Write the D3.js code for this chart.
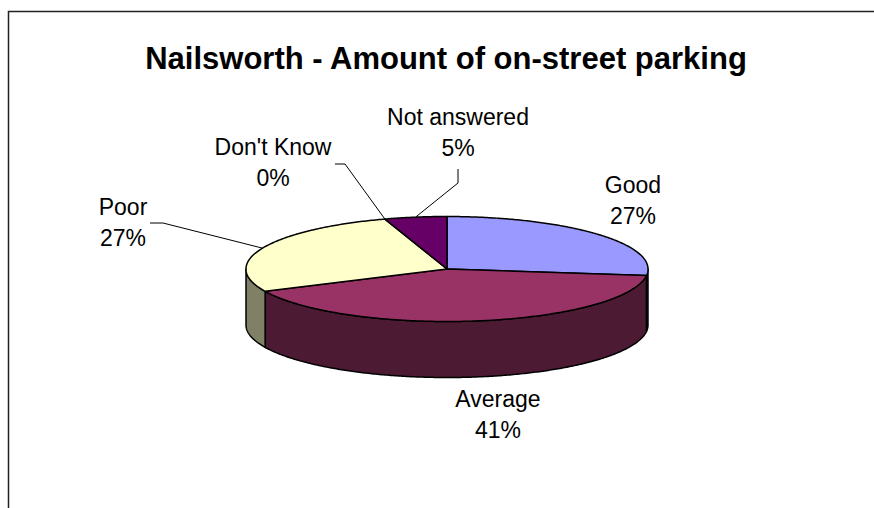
<!DOCTYPE html>
<html>
<head>
<meta charset="utf-8">
<script src="https://cdn.jsdelivr.net/npm/d3@7"></script>
<style>
  html, body { margin: 0; padding: 0; background: #fff; }
  svg { display: block; }
  text { font-family: "Liberation Sans", Arial, sans-serif; }
</style>
</head>
<body>
<svg id="chart" width="874" height="508"></svg>
<script>
// Survey answers: amount of on-street parking in Nailsworth (percent)
const categories = ["Good", "Average", "Poor", "Don't Know", "Not answered"];
const values = [27, 41, 27, 0, 5];
const topColors = ["#9999FF", "#993366", "#FFFFCC", "#CCFFFF", "#660066"];
const sideColors = ["#4C4C80", "#4C1A33", "#808066", "#668080", "#330033"];
const title = "Nailsworth - Amount of on-street parking";

const W = 874, H = 508;
const svg = d3.select("#chart");

// Chart area frame (right and bottom edges fall outside the page)
svg.append("rect")
  .attr("x", 8.5).attr("y", 11.5)
  .attr("width", 900).attr("height", 520)
  .attr("fill", "#fff")
  .attr("stroke", "#222").attr("stroke-width", 1.5);

svg.append("text")
  .attr("x", 446).attr("y", 69)
  .attr("text-anchor", "middle")
  .attr("font-size", 31).attr("font-weight", "bold")
  .text(title);

// Tilted pie geometry
const cx = 447, cy = 269, rx = 201, ry = 52.5, depth = 56;
const pt = (a, dy = 0) => [cx + rx * Math.sin(a), cy - ry * Math.cos(a) + dy];

const pie = d3.pie().sort(null).startAngle(0).endAngle(2 * Math.PI);
const arcs = pie(values).map((d, i) => ({ ...d, i }));

const line = d3.line();
function rimPoints(a0, a1, dy) {
  const n = Math.max(2, Math.ceil((a1 - a0) / 0.01));
  return d3.range(n + 1).map(k => pt(a0 + (a1 - a0) * k / n, dy));
}

// Side walls: only the front half (angles between 90° and 270°) is visible
const gWalls = svg.append("g");
arcs.forEach(d => {
  const a0 = Math.max(d.startAngle, Math.PI / 2);
  const a1 = Math.min(d.endAngle, 3 * Math.PI / 2);
  if (a1 - a0 <= 1e-6) return;
  const top = rimPoints(a0, a1, 0);
  const bottom = rimPoints(a0, a1, depth).reverse();
  gWalls.append("path")
    .attr("d", line(top.concat(bottom)) + "Z")
    .attr("fill", sideColors[d.i])
    .attr("stroke", "#000").attr("stroke-width", 1.5)
    .attr("stroke-linejoin", "round");
});

// Top faces
const gTop = svg.append("g");
arcs.forEach(d => {
  if (d.endAngle - d.startAngle <= 1e-6) return;
  const pts = [[cx, cy]].concat(rimPoints(d.startAngle, d.endAngle, 0));
  gTop.append("path")
    .attr("d", line(pts) + "Z")
    .attr("fill", topColors[d.i])
    .attr("stroke", "#000").attr("stroke-width", 1.5)
    .attr("stroke-linejoin", "round");
});

// Data labels: text anchor and optional leader elbow
const labelLayout = [
  { x: 633, y: 193, leader: null },
  { x: 498, y: 407, leader: null },
  { x: 123, y: 215, leader: [[150, 223], [163, 223]] },
  { x: 273, y: 155, leader: [[335, 164], [345, 164]] },
  { x: 458, y: 125, leader: [[458, 169], [458, 183]] }
];

const gLab = svg.append("g");
arcs.forEach(d => {
  const L = labelLayout[d.i];
  const t = gLab.append("text")
    .attr("x", L.x).attr("y", L.y)
    .attr("text-anchor", "middle")
    .attr("font-size", 23).attr("fill", "#000");
  t.append("tspan").attr("x", L.x).text(categories[d.i]);
  t.append("tspan").attr("x", L.x).attr("dy", 31).text(d3.format(".0%")(d.value / 100));
  if (L.leader) {
    const mid = (d.startAngle + d.endAngle) / 2;
    gLab.append("path")
      .attr("d", line(L.leader.concat([pt(mid, 0)])))
      .attr("fill", "none").attr("stroke", "#000").attr("stroke-width", 1);
  }
});
</script>
</body>
</html>
